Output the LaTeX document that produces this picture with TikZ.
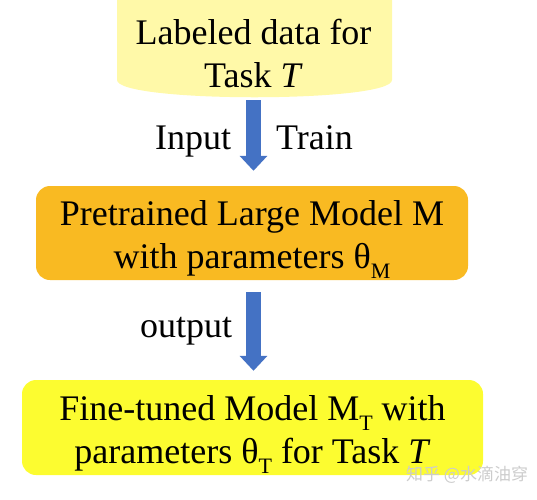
\documentclass[tikz,border=0pt]{standalone}
\usepackage{fontspec}
\setmainfont{Liberation Serif}
\newfontfamily\cjk{Noto Sans CJK SC}
\usetikzlibrary{arrows.meta}
\definecolor{datayellow}{HTML}{FFF9A8}
\definecolor{boxorange}{HTML}{F9BA22}
\definecolor{boxyellow}{HTML}{FCFC30}
\definecolor{arrowblue}{HTML}{4472C4}
\newcommand\lowsub[1]{\raisebox{-0.26em}{\fontsize{22}{22}\selectfont #1}}
\tikzset{
  bigtext/.style={font=\fontsize{36}{43}\selectfont, text=black},
  boxtext/.style={bigtext, align=center, inner sep=0pt},
  modelbox/.style={rounded corners=14pt, inner sep=0pt},
  blockarrow/.style={draw=arrowblue, line width=14.5pt, -{Triangle[width=27pt,length=15pt]}, arrowblue},
  lbl/.style={bigtext, inner sep=0pt, anchor=base west},
}
\begin{document}
\begin{tikzpicture}[x=1pt,y=-1pt]
\useasboundingbox (0,0) rectangle (537,499);
% cylinder (database) shape, top cut off
\fill[datayellow] (117,0) -- (117,80) .. controls (117,103) and (392,103) .. (392,80) -- (392,0) -- cycle;
\node[boxtext, minimum width=275pt, minimum height=90pt] (data) at (253.5,53) {Labeled data for\\Task \textit{T}};
\node[modelbox, fill=boxorange, minimum width=432pt, minimum height=94pt] (pre) at (252,233) {};
\node[boxtext] (pretext) at (252,239.5) {Pretrained Large Model M\\with parameters θ\lowsub{M}};
\node[modelbox, fill=boxyellow, minimum width=461pt, minimum height=95pt] (fine) at (252.5,427.5) {};
\node[boxtext] (finetext) at (252.5,434.5) {Fine-tuned Model M\lowsub{T} with\\parameters θ\lowsub{T} for Task \textit{T}};
\draw[blockarrow, shorten <=2pt, shorten >=15pt] (data.south) -- (data.south |- pre.north);
\draw[blockarrow, shorten <=12pt, shorten >=9pt] (pre.south -| data.south) -- (data.south |- fine.north);
\node[lbl] (input) at (155,149) {Input};
\node[lbl] (train) at (276,149) {Train};
\node[lbl] (output) at (140,337) {output};
\node[anchor=west, inner sep=0pt, text=gray!40, font=\cjk\fontsize{17}{17}\selectfont] (wm) at (406,475) {知乎 @水滴油穿};
\end{tikzpicture}
\end{document}
